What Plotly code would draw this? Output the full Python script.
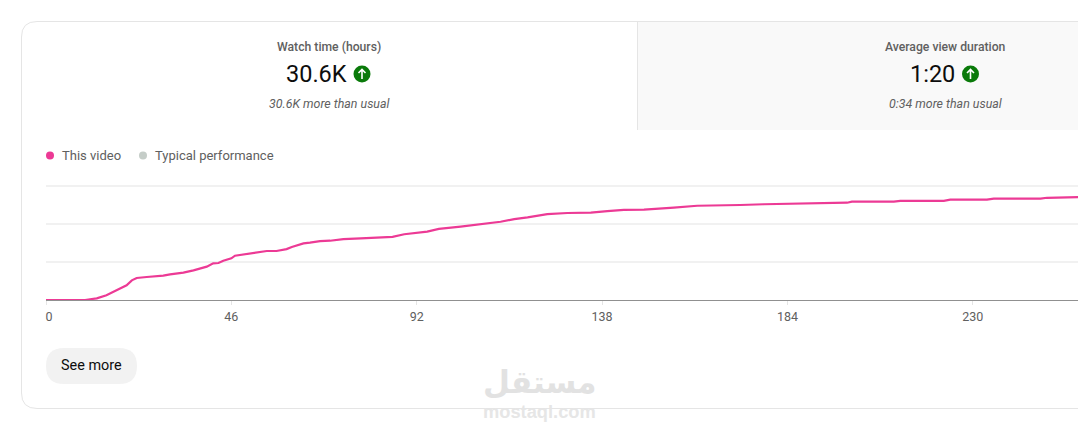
import plotly.graph_objects as go

W, H = 1078, 430

# curve (seconds vs. watch time, y in 1/10 of a gridline)
video_x = [0, 9.7, 12.6, 15, 17.5, 20, 21.3, 22.5, 25, 29.1, 30.8, 34.1, 36.6, 39.9, 41.5, 42.8, 44, 46, 46.9,
           48.6, 50.6, 54.8, 57.2, 59.7, 61, 62.6, 63.9, 65.5, 68, 70.5, 73.8, 78.1, 86, 88.9, 94.6, 97.5, 102.9,
           112.8, 116.2, 119.5, 124.4, 129.4, 135.2, 139.3, 143.4, 148.4, 151.7, 155.8, 161.6, 167.4, 172.3,
           178.1, 188.9, 189.7, 198.8, 200, 210.4, 212, 222.8, 224.4, 233.5, 235.2, 246.8, 248.4, 252.6, 256.2]
video_y = [0, 0, 0.44, 1.23, 2.54, 3.86, 5.17, 5.79, 6.05, 6.4, 6.75, 7.2, 7.8, 8.77, 9.65, 9.74, 10.35, 10.96, 11.65,
           11.9, 12.3, 12.9, 12.9, 13.4, 13.96, 14.4, 14.9, 15.1, 15.5, 15.6, 16.0, 16.2, 16.6, 17.3, 18.0, 18.7, 19.3,
           20.6, 21.3, 21.75, 22.6, 22.9, 23.0, 23.4, 23.7, 23.8, 24.1, 24.3, 24.8, 24.85, 25.0,
           25.2, 25.35, 25.5, 25.6, 25.9, 25.9, 26.1, 26.1, 26.4, 26.4, 26.7, 26.7, 26.9, 27.1, 27.1]
tick_vals = [0, 46, 92, 138, 184, 230]
tick_text = ["\u00a0\u00a00", "46", "92", "138", "184", "230"]
grid_vals = [0, 10, 20, 30]

PINK = "#ec3a95"
GREY = "#c5cdc8"
TEXT = "#606060"
DARK = "#0d0d0d"
GREEN = "#0a7a0a"
BORDER = "#e5e5e5"


def px(x):
    return x / W


def py(y):
    return 1 - y / H


def rounded_path(points):
    out = []
    for cmd, *xy in points:
        coords = " ".join(f"{px(xy[i]):.5f},{py(xy[i + 1]):.5f}" for i in range(0, len(xy), 2))
        out.append(f"{cmd} {coords}")
    return " ".join(out)


shapes = []
# gray panel behind the second metric
shapes.append(dict(type="rect", xref="paper", yref="paper", x0=px(638), x1=1, y0=py(130), y1=py(22),
                   fillcolor="#f9f9f9", line_width=0, layer="below"))
shapes.append(dict(type="line", xref="paper", yref="paper", x0=px(637.5), x1=px(637.5), y0=py(130), y1=py(22),
                   line=dict(color=BORDER, width=1), layer="below"))
# card outline, open on the right
shapes.append(dict(type="path", xref="paper", yref="paper", layer="below", line=dict(color=BORDER, width=1),
                   path=rounded_path([("M", W, 21.5), ("L", 37, 21.5), ("Q", 21.5, 21.5, 21.5, 37),
                                      ("L", 21.5, 393), ("Q", 21.5, 408.5, 37, 408.5), ("L", W, 408.5)])))
# see more pill
shapes.append(dict(type="path", xref="paper", yref="paper", layer="below", fillcolor="#f2f2f2", line_width=0,
                   path=rounded_path([("M", 64, 348), ("L", 119, 348), ("Q", 137, 348, 137, 366),
                                      ("Q", 137, 384, 119, 384), ("L", 64, 384), ("Q", 46, 384, 46, 366),
                                      ("Q", 46, 348, 64, 348), ("Z",)])))
# legend dots
for cx, col in [(50, PINK), (143, GREY)]:
    shapes.append(dict(type="circle", xref="paper", yref="paper", x0=px(cx - 4), x1=px(cx + 4),
                       y0=py(159.5), y1=py(151.5), fillcolor=col, line_width=0))
# up arrows
for cx in [362, 970.5]:
    shapes.append(dict(type="circle", xref="paper", yref="paper", x0=px(cx - 8.5), x1=px(cx + 8.5),
                       y0=py(82.5), y1=py(65.5), fillcolor=GREEN, line_width=0))
    shapes.append(dict(type="path", xref="paper", yref="paper", line=dict(color="white", width=1.6),
                       path=rounded_path([("M", cx, 79), ("L", cx, 70), ("M", cx - 3.5, 73), ("L", cx, 69.5),
                                          ("L", cx + 3.5, 73)])))


def label(text, x, y, size=12, color=TEXT, weight=400, style="normal", family="Roboto", anchor="center"):
    return dict(text=text, x=px(x), y=py(y), xref="paper", yref="paper", xanchor=anchor, yanchor="middle",
                showarrow=False, font=dict(family=family, size=size, color=color, weight=weight, style=style))


annotations = [
    label("Watch time (hours)", 329, 46.5, size=12.2, weight=500),
    label("30.6K", 316.5, 74, size=23.5, color=DARK),
    label("30.6K more than usual", 329.5, 103.5, size=12.4, style="italic"),
    label("Average view duration", 945, 46.5, size=12.2, weight=500),
    label("1:20", 932.5, 74, size=23.5, color=DARK),
    label("0:34 more than usual", 945, 103.5, size=12.4, style="italic"),
    label("This video", 60, 155.5, size=13, anchor="left"),
    label("Typical performance", 153, 155.5, size=13, anchor="left"),
    label("See more", 91.5, 365, size=14.4, color=DARK),
    label("مستقل", 539, 382, size=31, color="#e2e2e2", weight=700, family="DejaVu Sans"),
    label("mostaql.com", 539, 411.5, size=18.3, color="#e6e6e6", weight=700, family="Liberation Sans"),
]

fig = go.Figure()
fig.add_trace(go.Scatter(x=video_x, y=video_y, mode="lines", name="This video",
                         line=dict(color=PINK, width=2.2), cliponaxis=False, showlegend=False))

fig.update_xaxes(domain=[px(46), 1], range=[0, 256.1], automargin=False,
                 tickmode="array", tickvals=tick_vals, ticktext=tick_text, ticklabelstandoff=1,
                 tickangle=0, ticks="outside", ticklen=4, tickcolor=BORDER, tickwidth=1,
                 tickfont=dict(family="Roboto", size=12.5, color=TEXT),
                 showgrid=False, zeroline=False, showline=False)
# range runs past the top gridline, plotly drops a gridline sitting right on the axis end
# baseline is the zero line so the pink curve stays on top of it
fig.update_yaxes(domain=[py(300), py(182.2)], range=[0, 31], automargin=False, tickmode="array", tickvals=grid_vals,
                 showticklabels=False, ticks="", showgrid=True, gridcolor="#f1f1f1", gridwidth=1.5,
                 zeroline=True, zerolinecolor="#909090", zerolinewidth=1, showline=False)

fig.update_layout(
    width=W, height=H,
    margin=dict(l=0, r=0, t=0, b=0),
    paper_bgcolor="white", plot_bgcolor="rgba(0,0,0,0)",
    font=dict(family="Roboto", color=TEXT),
    showlegend=False,
    shapes=shapes,
    annotations=annotations,
)

fig.write_html("out.html", config=dict(displayModeBar=False),
               post_script="document.body.style.margin='0';document.body.style.overflow='hidden';")
